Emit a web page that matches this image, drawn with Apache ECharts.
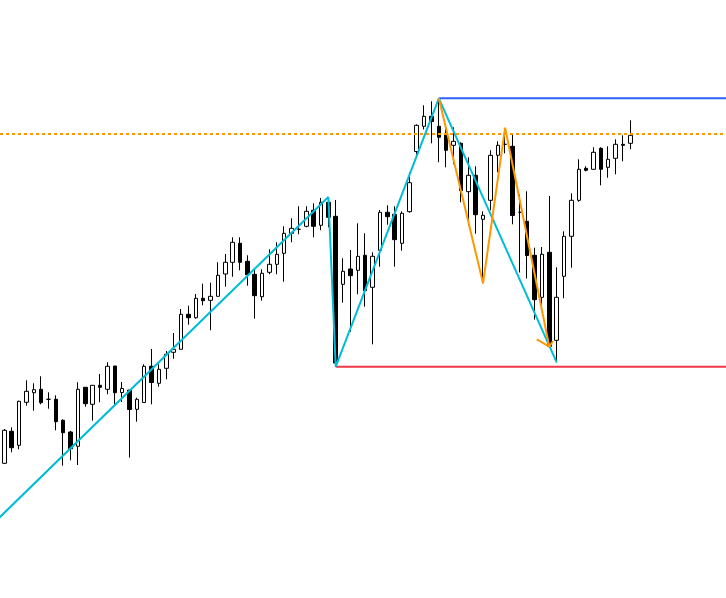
<!DOCTYPE html>
<html>
<head>
<meta charset="utf-8">
<style>
  html, body { margin: 0; padding: 0; background: #ffffff; }
  #chart { width: 726px; height: 598px; }
</style>
<script src="https://cdn.jsdelivr.net/npm/echarts@6/dist/echarts.min.js"></script>
</head>
<body>
<div id="chart"></div>
<script>
// ---- data (price units, no axis shown in the reference) ----
const openP = [
  136.7,168.7,154.7,197.7,207.3,210.7,200.7,200.7,179.7,168,
  153.7,212.7,195.7,214.7,210.7,234,207.5,210,190.7,197.5,
  233.7,216.7,231.7,247.7,250.7,285.7,282.3,301.7,299.7,303.7,
  326,337.7,356.7,338.7,325.7,303.3,327.7,335.7,346.7,366.7,
  370.7,373.7,389.7,374.7,397.7,383.7,315.7,331,329.7,344.7,
  312.7,349.7,387.7,385.7,356.7,388.3,448.5,473.7,483.7,473.7,
  465.7,454.7,456.7,408.3,424.7,380.7,399.7,444.7,455.7,453.7,
  387.7,378.7,344.7,302.7,347.7,259.7,323.7,363.7,399.7,431.7,
  430.7,451.7,432.7,441.7,455.7,456.7
];
const closeP = [
  169.7,152.3,198.7,208.7,210.3,197.3,200.7,178.3,167.3,151.3,
  210.7,196.3,214.7,212.7,233.7,207.3,211.5,190.5,200.7,233.7,
  217.5,230.7,245.7,250.7,285.7,282.3,301.7,299.3,303.7,324.7,
  337.7,357.7,337.7,325.3,304.3,326.7,335.7,345.7,366.7,371.7,
  370.7,388.7,373.7,397.7,382.7,237,328.7,324.3,343.7,309.3,
  343.7,387.7,383.3,360.3,386.7,417.3,474.7,483.7,478.5,462.7,
  449.7,458.7,409.3,424.7,385.3,384.7,444.7,454.7,455.7,384.5,
  387.7,344.5,300.3,345.7,253.7,302.7,363.7,399.7,430.7,429.7,
  447.7,430.7,440.7,455.7,454.7,464.7
];
const lowP = [
  136,147.7,150.7,194.3,189.3,195.7,191.3,169.7,134.3,139.7,
  135,193.3,179.3,197.7,205.7,195.7,198,142.5,178.3,197,
  195.7,213.3,220.7,241.3,250.5,275.3,281.3,294.7,269.7,303.5,
  313.3,323.3,329.7,314.3,281.3,299.3,325.7,325.7,318.3,357.7,
  365.7,372.7,362.7,369.7,372.7,233.3,297.3,268.3,305.7,293.3,
  255.7,333.3,375.3,333.3,349.3,387.3,444.5,470.5,456.7,437.7,
  432.7,435.7,397.7,374.3,366.3,316.7,389.7,427.7,446.7,375.7,
  327.5,321.5,280.5,293.3,252.7,237.7,301.7,332.3,398.3,428.7,
  430.5,414.7,422.3,425.7,438.7,450.7
];
const highP = [
  171,172.7,199.3,219.7,216.7,223.7,207.7,204.7,180.7,169,
  217.7,213,215,226,237.7,234,218,210,202.3,235.7,
  251,235.7,249,267,291,294.3,306,316.3,317.3,337.7,
  346,362.7,362.7,344.7,330.7,330.7,350.7,357.7,373.7,381.7,
  393.7,393.7,396.7,402,403,400,341.7,350,376.7,366.7,
  347.7,390,394.7,393.7,388.7,427.7,475.7,494.7,498.7,501.7,
  472.7,472.7,457.7,442.7,433.7,388.7,449.7,458.7,471.7,466.7,
  405.7,408.7,352.3,353,404,332.7,368.7,406.7,440.7,433.7,
  452.7,452.7,453.7,460.7,464.7,479.7
];
// zigzag pivots: [bar index, price]
const majorZigzag = [[-1, 80], [44, 403], [45, 233.3], [59, 501.7], [75, 237.7]];
const minorZigzag = [[59, 501.7], [65, 316.7], [68, 472.3], [74, 253.3]];
const minorArrow  = [[72.3, 260.7], [74, 253.3], [74.5, 259]];
// horizontal levels
const resistanceLevel = { from: 59, price: 501.7 };
const supportLevel    = { from: 45, price: 233.3 };
const dottedLevel     = 466;

// ---- layout helpers ----
const W = 726;
const barCount = openP.length;
const slotCount = 98;
const slotPx = 7.365;
const gridLeft = 0.62;
const gridRight = W - gridLeft - slotCount * slotPx;
const firstCenter = gridLeft + slotPx / 2;
const idxMin = -firstCenter / slotPx;          // bar index at left canvas edge
const idxMax = (W - firstCenter) / slotPx;     // bar index at right canvas edge
const categories = [];
for (let i = 0; i < slotCount; i++) categories.push(i < barCount ? 'B' + (i + 1) : '');
const candleData = openP.map((o, i) => [o, closeP[i], lowP[i], highP[i]]);

const yCfg = { type: 'value', min: 2, max: 600, show: false, splitLine: { show: false } };

const chart = echarts.init(document.getElementById('chart'), null, { renderer: 'canvas' });
chart.setOption({
  animation: false,
  backgroundColor: '#ffffff',
  grid: [
    { left: gridLeft, right: gridRight, top: 0, bottom: 0, containLabel: false },
    { left: 0, right: 0, top: 0, bottom: 0, containLabel: false }
  ],
  xAxis: [
    { type: 'category', gridIndex: 0, data: categories, boundaryGap: true, show: false },
    { type: 'value', gridIndex: 1, min: idxMin, max: idxMax, show: false, splitLine: { show: false } }
  ],
  yAxis: [
    Object.assign({ gridIndex: 0 }, yCfg),
    Object.assign({ gridIndex: 1 }, yCfg)
  ],
  series: [
    {
      type: 'candlestick',
      xAxisIndex: 0, yAxisIndex: 0,
      data: candleData,
      barWidth: 4,
      itemStyle: {
        color: '#ffffff', color0: '#000000',
        borderColor: '#000000', borderColor0: '#000000',
        borderWidth: 1
      },
      z: 2
    },
    {
      type: 'line', xAxisIndex: 1, yAxisIndex: 1, symbol: 'none',
      data: [[idxMin, dottedLevel], [idxMax, dottedLevel]],
      lineStyle: { color: '#ff9800', width: 2, type: [3, 3] }, z: 3
    },
    {
      type: 'line', xAxisIndex: 1, yAxisIndex: 1, symbol: 'none',
      data: [[resistanceLevel.from, resistanceLevel.price], [idxMax, resistanceLevel.price]],
      lineStyle: { color: '#2962ff', width: 2 }, z: 4
    },
    {
      type: 'line', xAxisIndex: 1, yAxisIndex: 1, symbol: 'none',
      data: [[supportLevel.from, supportLevel.price], [idxMax, supportLevel.price]],
      lineStyle: { color: '#f23645', width: 2 }, z: 4
    },
    {
      type: 'line', xAxisIndex: 1, yAxisIndex: 1, symbol: 'none',
      data: majorZigzag,
      lineStyle: { color: '#00bcd4', width: 2 }, z: 5
    },
    {
      type: 'line', xAxisIndex: 1, yAxisIndex: 1, symbol: 'none',
      data: minorZigzag,
      lineStyle: { color: '#ff9800', width: 2 }, z: 6
    },
    {
      type: 'line', xAxisIndex: 1, yAxisIndex: 1, symbol: 'none',
      data: minorArrow,
      lineStyle: { color: '#ff9800', width: 2 }, z: 6
    }
  ]
});
</script>
</body>
</html>
